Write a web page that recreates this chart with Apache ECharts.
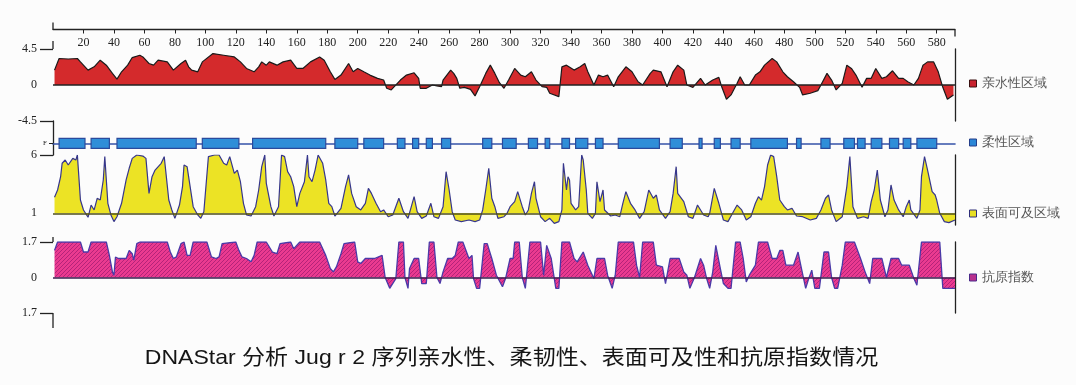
<!DOCTYPE html>
<html><head><meta charset="utf-8">
<script src="https://cdn.jsdelivr.net/npm/echarts@6/dist/echarts.min.js"></script>
<style>html,body{margin:0;padding:0;background:#fcfcfc}#c{width:1076px;height:385px}</style>
</head><body><div id="c"></div>
<script>
// ---------------- data ----------------
const xTicks = [20,40,60,80,100,120,140,160,180,200,220,240,260,280,300,320,340,360,380,400,420,440,460,480,500,520,540,560,580];
const hydroTicks = [-4.5, 0, 4.5];
const surfaceTicks = [1, 6];
const antigenTicks = [-1.7, 0, 1.7];
const seriesNames = ['亲水性区域','柔性区域','表面可及区域','抗原指数'];

const hydro = [[1,1.86],[4,3.31],[10,3.25],[16,3.31],[18,2.89],[23,1.86],[27,2.27],[31,3.10],[35,2.48],[39,1.45],[42,0.74],[45,1.65],[49,2.48],[52,3.43],[57,3.72],[59,3.51],[63,2.69],[66,2.48],[69,3.10],[75,2.89],[79,1.86],[84,2.69],[87,3.10],[89,2.27],[91,1.86],[95,1.65],[98,2.89],[105,3.93],[112,3.72],[119,3.51],[123,2.89],[127,2.07],[132,1.65],[135,2.27],[137,2.89],[140,2.48],[142,2.89],[147,2.48],[151,2.89],[156,3.10],[160,2.07],[164,2.07],[169,2.89],[175,3.51],[178,3.10],[182,1.65],[185,0.70],[189,1.24],[194,2.69],[197,1.65],[200,2.07],[204,1.65],[208,1.24],[213,0.83],[217,0.62],[219,-0.41],[222,-0.62],[226,0.21],[228,0.62],[232,1.24],[237,1.53],[240,0.83],[241,-0.41],[245,-0.41],[249,0],[252,-0.12],[255,-0.21],[256,0.62],[261,1.86],[263,1.45],[265,0.83],[267,-0.41],[270,-0.29],[274,-0.54],[277,-1.36],[280,-0.21],[284,1.45],[287,2.48],[290,1.45],[293,0.29],[296,-0.41],[299,0.62],[303,2.07],[307,1.24],[310,1.03],[314,1.65],[317,0.62],[321,-0.21],[324,-0.29],[326,-1.03],[332,-1.45],[334,2.27],[337,2.48],[342,1.86],[346,2.27],[349,2.69],[351,1.65],[355,0],[358,1.24],[361,1.03],[364,1.24],[368,-0.21],[371,1.03],[376,2.27],[380,1.65],[384,0.41],[387,0],[392,1.45],[394,1.86],[399,1.65],[403,-0.21],[407,1.65],[410,2.48],[414,1.86],[416,0],[420,-0.29],[425,0.83],[428,0],[433,0.62],[437,0.95],[439,-0.29],[442,-1.78],[445,-1.24],[449,0.21],[451,1.03],[454,0],[457,0],[461,1.24],[464,1.65],[467,2.48],[472,3.31],[475,2.89],[479,1.65],[482,1.03],[486,0.41],[490,-0.29],[492,-1.24],[497,-1.03],[502,-0.70],[504,0],[508,1.45],[511,0.62],[514,-0.62],[518,0.21],[521,2.48],[524,2.07],[527,1.24],[531,-0.29],[534,0.83],[537,0.83],[540,2.07],[544,0.83],[547,1.03],[551,1.78],[555,0.83],[558,0.83],[561,0.41],[565,0],[568,0.83],[571,2.48],[574,2.89],[578,2.89],[581,1.65],[584,-0.29],[587,-1.78],[591,-1.24]];

const flexRegions = [[4,21],[25,37],[42,94],[98,122],[131,179],[185,200],[204,217],[226,231],[236,240],[245,249],[255,261],[282,288],[295,304],[312,318],[323,326],[334,339],[343,351],[356,361],[371,398],[405,413],[424,426],[434,438],[445,451],[458,482],[488,491],[504,510],[519,526],[528,533],[537,544],[549,555],[558,563],[567,580]];

const surface = [[1,2.37],[3,3.0],[5,4.14],[6,5.29],[8,5.57],[10,5.14],[13,5.71],[15,5.57],[16,6.0],[17,5.86],[18,2.14],[20,1.29],[23,0.66],[25,1.71],[27,1.29],[29,2.29],[31,2.14],[33,3.86],[34,5.86],[36,1.86],[38,0.86],[40,0.29],[42,0.71],[45,1.86],[48,3.86],[50,4.86],[52,5.71],[55,6.0],[59,5.91],[61,5.71],[63,2.71],[65,4.14],[67,4.71],[71,5.29],[73,5.86],[74,6.0],[76,2.14],[78,1.29],[80,0.57],[83,1.71],[85,3.29],[86,5.14],[88,5.0],[90,3.29],[92,1.57],[95,0.86],[97,0.57],[99,1.14],[102,5.86],[106,6.0],[109,6.0],[112,5.29],[114,5.14],[116,5.86],[119,4.43],[121,4.71],[123,3.71],[125,1.86],[127,0.86],[130,0.77],[133,1.57],[135,3.0],[137,5.0],[139,6.0],[140,3.57],[143,1.57],[145,0.77],[148,1.57],[150,6.0],[152,5.86],[154,4.57],[156,4.14],[158,3.29],[160,1.57],[162,2.71],[165,3.71],[167,6.0],[168,4.14],[170,3.71],[172,4.71],[174,6.0],[177,5.29],[179,3.86],[181,1.86],[183,1.57],[185,0.77],[189,1.43],[192,3.29],[194,4.29],[196,2.71],[199,1.57],[202,1.29],[205,1.86],[207,3.14],[209,2.71],[212,1.86],[215,1.14],[217,1.29],[220,0.71],[223,0.86],[227,2.29],[230,1.14],[233,0.57],[237,2.43],[239,1.14],[242,0.57],[245,0.77],[248,1.86],[250,0.71],[253,0.57],[256,1.57],[258,4.57],[260,3.0],[262,1.14],[264,0.43],[268,0.29],[273,0.43],[277,0.29],[280,0.43],[282,1.29],[284,3.0],[286,4.86],[288,2.29],[290,1.57],[292,0.57],[296,0.71],[298,1.0],[300,1.57],[303,2.0],[305,2.86],[308,1.57],[310,0.86],[312,1.29],[314,2.71],[316,3.71],[317,2.29],[320,0.71],[323,0.29],[326,0.57],[329,0.14],[332,0.29],[334,1.29],[335,5.29],[337,3.0],[338,4.14],[339,3.86],[340,1.86],[343,1.29],[345,1.57],[347,6.0],[348,5.57],[350,3.0],[351,1.0],[354,0.57],[356,1.0],[357,3.71],[359,2.0],[361,3.0],[362,1.29],[366,0.77],[369,0.86],[372,0.71],[374,1.86],[376,2.86],[379,1.86],[382,1.29],[385,0.57],[388,1.14],[391,3.0],[394,2.29],[396,2.57],[398,1.29],[402,0.57],[405,1.14],[407,2.71],[409,5.0],[410,2.71],[414,2.0],[417,0.71],[420,0.57],[423,1.71],[427,0.86],[430,0.71],[431,1.0],[434,3.14],[437,1.86],[440,0.43],[443,0.29],[446,1.0],[449,1.71],[452,1.29],[455,0.43],[458,0.71],[461,1.86],[463,2.43],[465,2.14],[467,3.29],[469,5.14],[471,6.0],[473,5.86],[475,4.14],[477,2.14],[480,1.57],[482,1.29],[485,1.43],[488,0.77],[492,0.71],[497,0.43],[501,0.57],[504,1.29],[507,2.29],[509,2.57],[511,1.29],[514,0.29],[518,0.71],[521,3.29],[523,5.86],[525,1.57],[528,0.57],[532,0.71],[535,0.57],[537,2.0],[539,3.0],[541,4.71],[543,2.14],[546,0.71],[548,1.29],[550,3.43],[552,2.14],[555,1.29],[558,0.71],[560,1.57],[562,2.14],[563,1.29],[567,0.57],[569,1.29],[570,4.14],[572,5.86],[574,4.71],[577,2.86],[579,2.57],[580,2.14],[582,1.0],[585,0.29],[588,0.2],[592,0.43]];

const antigen = [[1,1.30],[3,1.70],[18,1.70],[20,1.22],[23,1.22],[25,1.70],[35,1.70],[37,1.06],[39,0.27],[40,0.11],[41,0.98],[43,0.91],[48,0.91],[50,1.30],[52,1.14],[53,0.83],[55,1.62],[57,1.70],[75,1.70],[77,1.22],[79,0.91],[81,0.99],[84,1.62],[86,1.70],[88,1.06],[90,1.06],[92,1.70],[101,1.70],[104,0.99],[107,0.91],[109,0.99],[111,1.62],[120,1.70],[122,1.30],[124,0.99],[127,0.91],[130,0.75],[132,1.06],[134,1.70],[140,1.70],[144,1.22],[147,1.14],[149,1.62],[156,1.70],[158,1.38],[162,1.70],[175,1.70],[179,1.06],[182,0.43],[184,0.27],[186,0.51],[189,1.14],[191,1.62],[198,1.70],[200,0.75],[202,0.67],[205,0.91],[211,0.91],[216,1.06],[218,0],[221,-0.52],[222,-0.52],[225,-0.05],[227,1.70],[230,1.70],[231,0],[233,-0.52],[234,0.43],[237,0.91],[240,0.91],[242,-0.29],[245,-0.29],[247,1.70],[250,1.70],[252,0],[254,-0.29],[256,0.27],[259,0.91],[262,0.91],[264,1.06],[266,1.70],[269,1.70],[273,0.91],[275,1.06],[276,-0.05],[278,-0.52],[280,-0.52],[283,1.62],[285,1.62],[288,0.91],[291,0.11],[295,-0.44],[297,-0.05],[300,0.91],[302,0.91],[303,1.70],[306,1.70],[308,0],[310,-0.52],[313,1.70],[320,1.70],[322,0.11],[324,1.54],[325,1.54],[327,0.91],[330,-0.52],[332,-0.52],[334,1.70],[339,1.70],[342,0.91],[344,0.75],[348,1.22],[351,0.59],[355,-0.05],[357,0.91],[362,0.91],[364,0.11],[367,-0.52],[369,0.11],[371,1.70],[381,1.70],[383,0.59],[385,0],[387,1.70],[394,1.70],[396,0.59],[400,0.51],[402,-0.29],[405,0.91],[411,0.91],[414,0.27],[416,0.11],[418,-0.52],[421,0],[425,0.91],[427,0.59],[429,-0.05],[431,-0.52],[433,0.27],[435,1.54],[438,0.43],[440,-0.29],[443,-0.52],[445,-0.52],[448,1.70],[451,1.70],[453,0.91],[455,-0.21],[457,0.11],[461,0.59],[463,1.70],[469,1.70],[472,0.91],[475,0.91],[477,1.30],[479,1.30],[481,0.59],[486,0.59],[489,1.22],[491,0.51],[494,-0.52],[496,-0.05],[498,0.35],[500,-0.52],[503,-0.52],[506,1.22],[509,1.22],[511,0],[513,-0.52],[515,-0.52],[518,0.59],[520,1.70],[526,1.70],[530,0.91],[533,0.27],[536,-0.29],[538,0.91],[544,0.91],[547,0],[550,0.91],[555,0.91],[557,0.59],[562,0.59],[565,-0.05],[567,-0.37],[570,1.70],[582,1.70],[584,-0.52],[592,-0.52]];

const titleText = 'DNAStar 分析 Jug r 2 序列亲水性、柔韧性、表面可及性和抗原指数情况';

// ---------------- layout ----------------
const X_MIN = 0, X_MAX = 592;
const GL = 53, GR = 121, W = 1076;
const G0 = {top: 49, height: 72};   // hydrophilicity
const G1 = {top: 121, height: 34};  // flexible
const G2 = {top: 155, height: 70};  // surface
const G3 = {top: 242, height: 71};  // antigenic
const AXIS_Y = 29.5;
const serif = '"Liberation Serif", "DejaVu Serif", serif';
const ink = '#222';

// hatch pattern for antigenic fill
const pc = document.createElement('canvas');
pc.width = 4; pc.height = 4;
const px = pc.getContext('2d');
px.fillStyle = '#ea3a90'; px.fillRect(0,0,4,4);
px.strokeStyle = '#b4237a'; px.lineWidth = 1;
px.beginPath(); px.moveTo(-1,5); px.lineTo(5,-1); px.stroke();

const hiddenX = (g) => ({gridIndex: g, type: 'value', min: X_MIN, max: X_MAX, show: false});
const rightY = (g, mn, mx) => ({gridIndex: g, type: 'value', min: mn, max: mx, position: 'right',
  axisLine: {show: true, lineStyle: {color: ink, width: 1.3}}, axisTick: {show: false}, axisLabel: {show: false}, splitLine: {show: false}});
const labelStyle = {fontFamily: serif, fontSize: 12, color: ink};
const baseLine = (v, color) => ({silent: true, symbol: ['none','none'], label: {show: false}, animation: false,
  lineStyle: {color: color, width: 1.6, type: 'solid'}, emphasis: {disabled: true}, data: [{yAxis: v}]});

const legendBase = {orient: 'vertical', left: 969, padding: 0, itemWidth: 7, itemHeight: 7, icon: 'rect', selectedMode: false,
  textStyle: {fontFamily: serif, fontSize: 13, color: '#555'}};

const chart = echarts.init(document.getElementById('c'), null, {renderer: 'canvas'});
chart.setOption({
  backgroundColor: '#fcfcfc',
  animation: false,
  grid: [
    {left: GL, right: GR, top: G0.top, height: G0.height},
    {left: GL, right: GR, top: G1.top, height: G1.height},
    {left: GL, right: GR, top: G2.top, height: G2.height},
    {left: GL, right: GR, top: G3.top, height: G3.height}
  ],
  xAxis: [
    {gridIndex: 0, type: 'value', min: X_MIN, max: X_MAX, position: 'top', offset: G0.top - AXIS_Y,
      axisLine: {show: true, onZero: false, lineStyle: {color: ink, width: 1.3}},
      axisTick: {show: true, inside: true, length: 4, customValues: xTicks, lineStyle: {color: ink}},
      axisLabel: Object.assign({inside: true, margin: 7, customValues: xTicks}, labelStyle),
      splitLine: {show: false}},
    {gridIndex: 1, type: 'value', min: X_MIN, max: X_MAX,
      axisLine: {show: true, onZero: true, lineStyle: {color: '#3552a8', width: 1.6}},
      axisTick: {show: false}, axisLabel: {show: false}, splitLine: {show: false}},
    hiddenX(2),
    hiddenX(3)
  ],
  yAxis: [
    {gridIndex: 0, type: 'value', min: -4.5, max: 4.5,
      axisLine: {show: false}, splitLine: {show: false},
      axisTick: {show: true, length: 13, customValues: [-4.5, 4.5], lineStyle: {color: ink, width: 1.3}},
      axisLabel: Object.assign({margin: 16, customValues: hydroTicks}, labelStyle)},
    rightY(0, -4.5, 4.5),
    {gridIndex: 1, type: 'value', min: -0.34, max: 0.66,
      axisLine: {show: true, onZero: false, lineStyle: {color: ink, width: 1.3}}, splitLine: {show: false},
      axisTick: {show: true, length: 4, customValues: [0], lineStyle: {color: ink}},
      axisLabel: {margin: 6, customValues: [0], formatter: () => 'F', fontFamily: serif, fontSize: 7, color: ink}},
    {gridIndex: 2, type: 'value', min: 0, max: 6,
      axisLine: {show: false}, splitLine: {show: false},
      axisTick: {show: true, length: 13, customValues: [6], lineStyle: {color: ink, width: 1.3}},
      axisLabel: Object.assign({margin: 16, customValues: surfaceTicks}, labelStyle)},
    rightY(2, 0, 6),
    {gridIndex: 3, type: 'value', min: -1.7, max: 1.7,
      axisLine: {show: false}, splitLine: {show: false},
      axisTick: {show: true, length: 13, customValues: [-1.7, 1.7], lineStyle: {color: ink, width: 1.3}},
      axisLabel: Object.assign({margin: 16, customValues: antigenTicks, formatter: v => String(Math.abs(v))}, labelStyle)},
    rightY(3, -1.7, 1.7)
  ],
  legend: [
    Object.assign({top: 77, data: [{name: seriesNames[0], itemStyle: {color: '#c8222e', borderColor: '#3a1010', borderWidth: 1}}]}, legendBase),
    Object.assign({top: 136, data: [{name: seriesNames[1], itemStyle: {color: '#2a86d6', borderColor: '#243f8a', borderWidth: 1}}]}, legendBase),
    Object.assign({top: 207, data: [{name: seriesNames[2], itemStyle: {color: '#e8df22', borderColor: '#2e2e7a', borderWidth: 1}}]}, legendBase),
    Object.assign({top: 271, data: [{name: seriesNames[3], itemStyle: {color: '#b8308e', borderColor: '#4a2a8a', borderWidth: 1}}]}, legendBase)
  ],
  series: [
    {name: seriesNames[0], type: 'line', xAxisIndex: 0, yAxisIndex: 0, data: hydro, showSymbol: false, symbol: 'none',
      lineStyle: {color: '#1a1a1a', width: 1.2}, itemStyle: {color: '#c8222e'},
      areaStyle: {color: '#d42a2c', opacity: 1}, markLine: baseLine(0, '#222'), z: 3},
    {name: seriesNames[1], type: 'custom', xAxisIndex: 1, yAxisIndex: 2, data: flexRegions,
      encode: {x: [0, 1]}, itemStyle: {color: '#2a86d6'},
      renderItem: (params, api) => {
        const s = api.coord([api.value(0), 0]);
        const e = api.coord([api.value(1), 0]);
        const h = 10;
        return {type: 'rect', shape: {x: s[0], y: s[1] - h / 2, width: Math.max(e[0] - s[0], 2), height: h},
          style: {fill: '#2f8ed8', stroke: '#2a4a9c', lineWidth: 1.2}};
      }, z: 3},
    {name: seriesNames[2], type: 'line', xAxisIndex: 2, yAxisIndex: 3, data: surface, showSymbol: false, symbol: 'none',
      lineStyle: {color: '#36368c', width: 1.2}, itemStyle: {color: '#e8df22'},
      areaStyle: {color: '#ece325', opacity: 1, origin: 1}, markLine: baseLine(1, '#4f4f1c'), z: 3},
    {name: seriesNames[3], type: 'line', xAxisIndex: 3, yAxisIndex: 5, data: antigen, showSymbol: false, symbol: 'none',
      lineStyle: {color: '#4a3aa8', width: 1.3}, itemStyle: {color: '#b8308e'},
      areaStyle: {color: {image: pc, repeat: 'repeat'}, opacity: 1}, markLine: baseLine(0, '#3a2050'), z: 3}
  ],
  graphic: [
    {type: 'line', shape: {x1: GL, y1: AXIS_Y - 7, x2: GL, y2: AXIS_Y}, style: {stroke: ink, lineWidth: 1.3}},
    {type: 'line', shape: {x1: W - GR, y1: AXIS_Y, x2: W - GR, y2: AXIS_Y + 7}, style: {stroke: ink, lineWidth: 1.3}},
    {type: 'line', shape: {x1: GL, y1: G0.top - 8, x2: GL, y2: G0.top}, style: {stroke: ink, lineWidth: 1.3}},
    {type: 'line', shape: {x1: GL, y1: G3.top - 5, x2: GL, y2: G3.top}, style: {stroke: ink, lineWidth: 1.3}},
    {type: 'line', shape: {x1: GL, y1: G3.top + G3.height, x2: GL, y2: G3.top + G3.height + 15}, style: {stroke: ink, lineWidth: 1.3}},
    {type: 'text', x: 511.5, y: 358, scaleX: 1.097, style: {text: titleText, align: 'center', verticalAlign: 'middle',
      fontFamily: '"Liberation Sans", "Noto Sans CJK SC", sans-serif', fontSize: 21, fill: '#151515'}}
  ]
});
</script></body></html>
